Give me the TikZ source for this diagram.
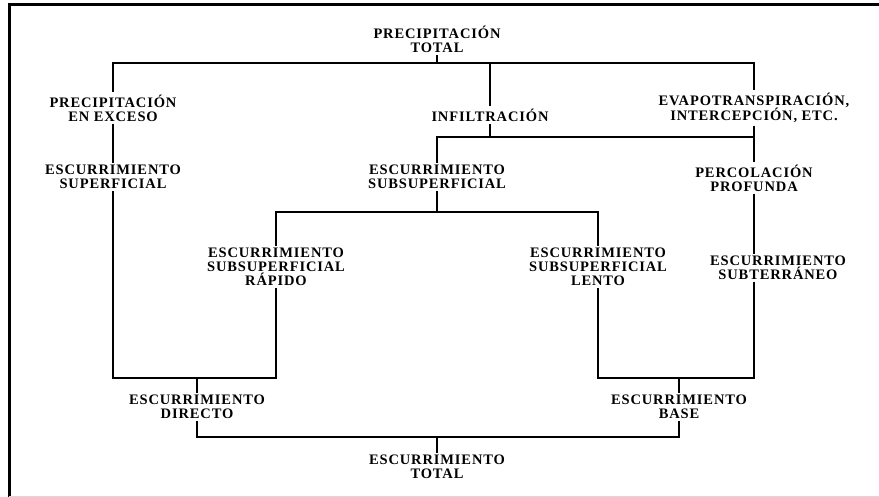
\documentclass[tikz,border=0pt]{standalone}
\usepackage{fontspec}
\setmainfont{Liberation Serif}[LetterSpace=6]
\usetikzlibrary{positioning}

\begin{document}
\begin{tikzpicture}[x=1pt,y=-1pt,line width=1.3pt,
  box/.style={align=center,font=\bfseries\fontsize{14.5}{14}\selectfont,inner xsep=2pt,inner ysep=2.5pt,outer sep=0pt}]
  \useasboundingbox (0,0) rectangle (879,497);
  \draw[line width=3pt] (9,497) -- (9,5) -- (879,5);
  \draw[black!15,line width=1pt] (9,496) -- (879,496);

  \node[box] (ptot) at (437,39) {PRECIPITACIÓN\\TOTAL};
  \node[box] (pexc) at (113,108) {PRECIPITACIÓN\\EN EXCESO};
  \node[box] (infil) at (490,115) {INFILTRACIÓN};
  \node[box] (evapo) at (754,108) {EVAPOTRANSPIRACIÓN,\\INTERCEPCIÓN, ETC.};
  \node[box] (esup) at (113,177) {ESCURRIMIENTO\\SUPERFICIAL};
  \node[box] (esub) at (437,177) {ESCURRIMIENTO\\SUBSUPERFICIAL};
  \node[box] (perc) at (754,178) {PERCOLACIÓN\\PROFUNDA};
  \node[box] (erap) at (276,267) {ESCURRIMIENTO\\SUBSUPERFICIAL\\RÁPIDO};
  \node[box] (elen) at (598,267) {ESCURRIMIENTO\\SUBSUPERFICIAL\\LENTO};
  \node[box] (eter) at (778,268) {ESCURRIMIENTO\\SUBTERRÁNEO};
  \node[box] (edir) at (197,407) {ESCURRIMIENTO\\DIRECTO};
  \node[box] (ebase) at (679,407) {ESCURRIMIENTO\\BASE};
  \node[box] (etot) at (437,467) {ESCURRIMIENTO\\TOTAL};

  \coordinate (r1) at (0,63);
  \coordinate (r2) at (0,137);
  \coordinate (r3) at (0,212);
  \coordinate (r4) at (0,378);
  \coordinate (r5) at (0,437);

  \draw (ptot.south) -- (ptot |- r1);
  \draw (pexc.north) |- (r1 -| evapo) -- (evapo.north);
  \draw (infil.north) -- (infil |- r1);
  \draw (pexc.south) -- (esup.north);
  \draw (infil.south) -- (infil |- r2);
  \draw (esub.north) |- (r2 -| evapo);
  \draw (evapo.south) -- (perc.north);
  \draw (esub.south) -- (esub |- r3);
  \draw (erap.north) |- (r3 -| elen) -- (elen.north);
  \draw (esup.south) |- (r4 -| erap) -- (erap.south);
  \draw (perc.south) -- (perc |- eter.north);
  \draw (eter.south -| perc) |- (r4 -| elen) -- (elen.south);
  \draw (edir.north) -- (edir |- r4);
  \draw (ebase.north) -- (ebase |- r4);
  \draw (edir.south) |- (r5 -| ebase) -- (ebase.south);
  \draw (etot.north) -- (etot |- r5);
\end{tikzpicture}
\end{document}
